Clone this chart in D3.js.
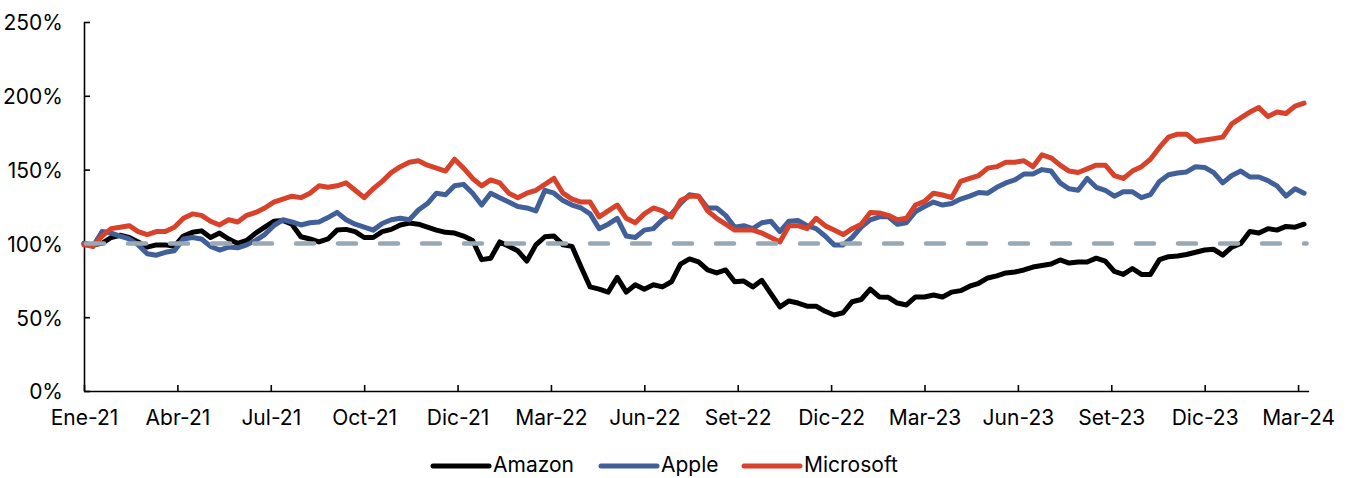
<!DOCTYPE html>
<html>
<head>
<meta charset="utf-8">
<script src="https://cdn.jsdelivr.net/npm/d3@7"></script>
<style>
  body { margin: 0; background: #fff; }
  svg text { font-family: Inter, "Open Sans", sans-serif; font-size: 21px; fill: #000; }
</style>
</head>
<body>
<svg id="chart" width="1347" height="478"></svg>
<script>
// trading-day index of each point = position * dayStep
var dayStep = 6;

var amazon = [100, 99, 100, 104, 105.5, 104, 101, 97.5, 99, 99, 98, 105, 107.5, 108.5, 104, 107, 103, 100, 102, 107,
  111, 115, 115.5, 113, 104.5, 103, 101, 103, 109, 109.5, 108, 104, 104, 108, 109.5, 112.5, 113.8, 113, 111, 109,
  107.5, 107, 105, 102, 89, 90, 101, 98, 95, 88, 99, 104.5, 105, 99, 98, 84, 70.5, 69, 67, 77,
  67, 72, 69, 72, 70.5, 74, 86, 89.5, 87.5, 82, 80, 82, 74, 74.5, 70.5, 75, 66, 57, 61, 59.6,
  57.5, 57.5, 54, 51.5, 53, 60.5, 62, 69, 63.7, 63.5, 59.6, 58.3, 63.7, 63.7, 65, 63.7, 67, 68, 71, 73,
  76.6, 78, 80, 80.6, 82, 84, 85, 86, 88.8, 86.7, 87.4, 87.4, 90, 88, 81, 79, 83, 79, 79, 89,
  91, 91.5, 92.5, 94, 95.5, 96, 92, 97.5, 100, 108, 107, 110, 109, 111.5, 111, 113];

var apple = [100, 98, 108, 107, 105, 103, 99, 93, 92, 94, 95, 103, 104, 103, 98, 95.5, 97.5, 97, 99, 102,
  106, 112, 116, 114.5, 112.5, 114, 114.5, 117.5, 121, 116, 113, 111, 109, 113.5, 116, 117, 116, 122.6, 127, 134,
  133, 139, 140, 134, 126, 134, 131, 128, 125, 124, 122, 136, 134, 129, 126, 124, 120, 110, 113, 117,
  105, 104, 109, 110, 116, 120, 127, 133, 132, 124, 124, 119, 111, 112, 110, 114, 115, 108, 115, 115.5,
  112, 110, 105, 99, 99, 104, 111, 116, 118, 118, 113, 114, 121.5, 125, 128, 126, 127, 130, 132, 134.5,
  134, 138, 141, 143, 147, 147, 150, 149, 141, 137, 136, 144, 138, 136, 132, 135, 135, 131, 133, 142,
  146.5, 147.7, 148.4, 152, 151.5, 148, 141, 146, 149, 145, 145, 142.5, 139, 132, 137, 134];

var microsoft = [99, 98, 105, 110, 111, 112, 108, 106, 108, 108, 111, 117, 120, 119, 115, 112.5, 116, 114.5, 119, 121,
  124, 128, 130, 132, 131, 134, 139, 138, 139, 141, 136, 131, 137, 142, 148, 152, 155, 156, 153, 151,
  149, 157, 151, 144, 139, 143, 141, 134, 131, 134, 136, 140, 144, 134, 130, 128, 128, 118, 122, 126,
  117, 114, 120, 124, 122, 118, 129, 132, 132, 122, 117, 113, 109, 109, 109, 107, 104, 101, 112, 112,
  110, 117, 112, 109, 106, 110, 113, 121, 120.6, 119, 116, 117, 126, 128.5, 134, 132.8, 131, 142, 144, 146,
  151, 152, 155, 155, 156, 152, 160, 158, 153, 149, 148, 150.5, 153, 153, 146, 144, 149, 152, 157, 165,
  172, 174, 174, 169, 170, 171, 172, 181, 185, 189, 192, 186, 189, 188, 193, 195];

var seriesNames = ["Amazon", "Apple", "Microsoft"];
var seriesColors = ["#000000", "#41609a", "#d8412a"];

var xTickLabels = ["Ene-21", "Abr-21", "Jul-21", "Oct-21", "Dic-21", "Mar-22", "Jun-22",
  "Set-22", "Dic-22", "Mar-23", "Jun-23", "Set-23", "Dic-23", "Mar-24"];
var tickEvery = 62;
var yTicks = [0, 50, 100, 150, 200, 250];
var baseLevel = 100;

var svg = d3.select("#chart");

var x = d3.scaleLinear().domain([0, 813]).range([84, 1308.6]);
var y = d3.scaleLinear().domain([0, 250]).range([391, 22]);

var xAxis = d3.axisBottom(x)
  .tickValues(xTickLabels.map(function(d, i) { return i * tickEvery; }))
  .tickFormat(function(d, i) { return xTickLabels[i]; })
  .tickSizeInner(-6).tickSizeOuter(0).tickPadding(19.5);

var yAxis = d3.axisLeft(y)
  .tickValues(yTicks)
  .tickFormat(function(d) { return d + "%"; })
  .tickSizeInner(-6).tickSizeOuter(0).tickPadding(21);

var gx = svg.append("g").attr("transform", "translate(0," + y(0) + ")").call(xAxis);
var gy = svg.append("g").attr("transform", "translate(" + x(0) + ",0)").call(yAxis);
[gx, gy].forEach(function(g) {
  g.selectAll("path, line").attr("stroke", "#000").attr("stroke-width", 1.6);
  g.selectAll("text").attr("font-family", null).attr("font-size", null).attr("fill", "#000");
});
gy.selectAll("text").attr("dy", "0.38em");

var line = d3.line()
  .x(function(d, i) { return x(i * dayStep); })
  .y(function(d) { return y(d); });

[amazon, apple, microsoft].forEach(function(s, k) {
  svg.append("path")
    .datum(s)
    .attr("d", line)
    .attr("fill", "none")
    .attr("stroke", seriesColors[k])
    .attr("stroke-width", 5)
    .attr("stroke-linejoin", "round")
    .attr("stroke-linecap", "round");
});

// 100% reference line
svg.append("line")
  .attr("x1", x(0) + 2).attr("x2", x(813) - 2)
  .attr("y1", y(baseLevel)).attr("y2", y(baseLevel))
  .attr("stroke", "#98a8b4")
  .attr("stroke-width", 4.5)
  .attr("stroke-linecap", "round")
  .attr("stroke-dasharray", "18,24");

// legend
var legendX = [433, 601, 744];
var legend = svg.append("g");
seriesNames.forEach(function(name, k) {
  legend.append("line")
    .attr("x1", legendX[k]).attr("x2", legendX[k] + 56)
    .attr("y1", 466).attr("y2", 466)
    .attr("stroke", seriesColors[k])
    .attr("stroke-width", 5)
    .attr("stroke-linecap", "round");
  legend.append("text")
    .attr("x", legendX[k] + 60)
    .attr("y", 472)
    .text(name);
});
</script>
</body>
</html>
